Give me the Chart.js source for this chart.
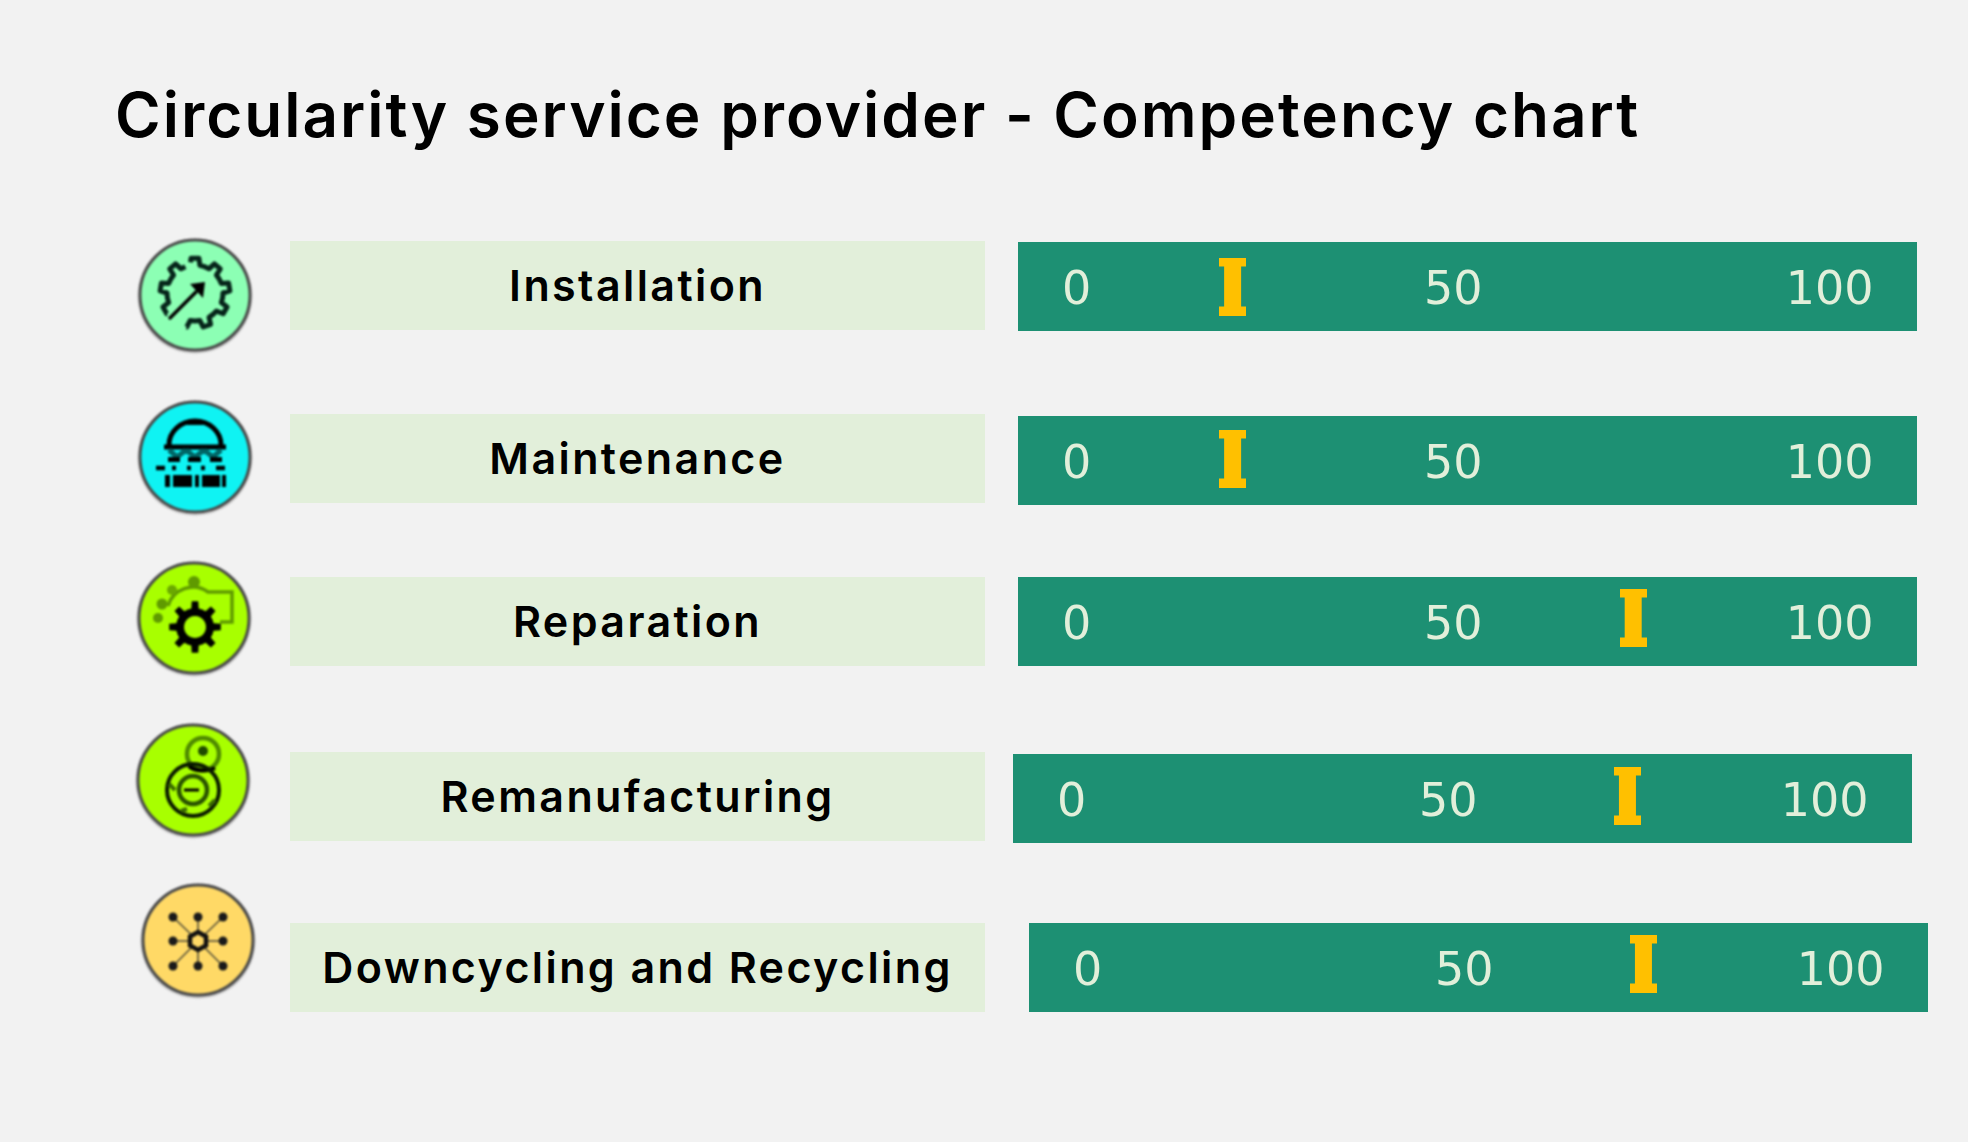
<!DOCTYPE html>
<html>
<head>
<meta charset="utf-8">
<title>Circularity service provider - Competency chart</title>
<script src="https://cdn.jsdelivr.net/npm/chart.js@4"></script>
<style>
html,body{margin:0;padding:0;background:#F2F2F2;width:1968px;height:1142px;overflow:hidden}
#title{position:absolute;left:115px;top:71px;font:600 62px/88px Inter,sans-serif;color:#000;white-space:nowrap;letter-spacing:2px}
.box{position:absolute;left:290px;width:695px;height:89px;background:#E2EFDA;display:flex;align-items:center;justify-content:center;font:600 43px/89px Inter,sans-serif;color:#000;white-space:nowrap;letter-spacing:2.4px}
canvas.row{position:absolute;display:block}
svg.icon{position:absolute;width:124px;height:124px;filter:blur(0.9px);overflow:visible}
</style>
</head>
<body>
<div id="title">Circularity service provider - Competency chart</div>
<script>
// ---- data ----
const categories = ["Installation", "Maintenance", "Reparation", "Remanufacturing", "Downcycling and Recycling"];
const competency = [20.7, 20.7, 73.9, 73.8, 73.8];
const tickValues = [0, 50, 100];

// ---- layout ----
const boxTops = [241, 414, 577, 752, 923];
const barLefts = [1018, 1018, 1018, 1013, 1029];
const barTops = [242, 416, 577, 754, 923];
const markerLift = [0, 2, 4, 3, 4];
const iconCentres = [[195,295],[195,457],[194,618],[193,780],[198,940]];
const iconFills = ["#8CFFB4", "#0FF3F3", "#A8FF00", "#A8FF00", "#FFD966"];
const BAR_W = 899, BAR_H = 89;
const AXIS_MIN = -7.8, AXIS_MAX = 111.6;
const GREEN = "#1D9073", PALE = "#E2EFDA", GOLD = "#FFC000";

// I-beam marker used as the point style
function markerImage() {
  const c = document.createElement('canvas');
  c.width = 27; c.height = 58;
  const g = c.getContext('2d');
  g.fillStyle = GOLD;
  g.fillRect(0, 0, 27, 9);
  g.fillRect(0, 49, 27, 9);
  g.fillRect(5, 0, 17, 58);
  return c;
}
const marker = markerImage();

const bandPlugin = {
  id: 'band',
  beforeDraw(chart) {
    const {ctx, chartArea: a} = chart;
    ctx.save();
    ctx.fillStyle = GREEN;
    ctx.fillRect(a.left, a.top, a.right - a.left, a.bottom - a.top);
    ctx.restore();
  }
};

categories.forEach((name, i) => {
  const box = document.createElement('div');
  box.className = 'box';
  box.style.top = boxTops[i] + 'px';
  box.textContent = name;
  document.body.appendChild(box);

  const cv = document.createElement('canvas');
  cv.className = 'row';
  cv.width = BAR_W; cv.height = BAR_H;
  cv.style.left = barLefts[i] + 'px';
  cv.style.top = barTops[i] + 'px';
  cv.style.width = BAR_W + 'px';
  cv.style.height = BAR_H + 'px';
  document.body.appendChild(cv);

  new Chart(cv, {
    type: 'scatter',
    plugins: [bandPlugin],
    data: {
      labels: [name],
      datasets: [{
        label: name,
        data: [{x: competency[i], y: markerLift[i]}],
        pointStyle: marker,
        pointRadius: 14,
        showLine: false
      }]
    },
    options: {
      responsive: false,
      animation: false,
      devicePixelRatio: 1,
      layout: {padding: 0, autoPadding: false},
      plugins: {legend: {display: false}, tooltip: {enabled: false}, title: {display: false}},
      scales: {
        y: {type: 'linear', min: -BAR_H / 2, max: BAR_H / 2, display: false},
        x: {
          type: 'linear',
          min: AXIS_MIN,
          max: AXIS_MAX,
          position: {y: 0},
          afterBuildTicks(s) { s.ticks = tickValues.map(v => ({value: v})); },
          afterFit(s) { s.paddingLeft = 0; s.paddingRight = 0; s.height = 0; },
          grid: {display: false, drawTicks: false},
          border: {display: false},
          ticks: {
            color: PALE,
            font: {family: 'DejaVu Sans', size: 46},
            padding: -22,
            autoSkip: false,
            maxRotation: 0,
            minRotation: 0
          }
        }
      }
    }
  });
});

// ---- decorative round icons ----
function gearPath(cx, cy, rOut, rIn, teeth) {
  let d = '';
  const step = Math.PI * 2 / teeth;
  for (let t = 0; t < teeth; t++) {
    const a = t * step;
    const pts = [[a - step*0.5, rIn],[a - step*0.25, rIn],[a - step*0.16, rOut],[a + step*0.16, rOut],[a + step*0.25, rIn]];
    pts.forEach(([an, r], k) => {
      d += (t === 0 && k === 0 ? 'M' : 'L') + (cx + r*Math.sin(an)).toFixed(1) + ' ' + (cy - r*Math.cos(an)).toFixed(1);
    });
  }
  return d + 'Z';
}
const iconArt = [
  `<path d="${gearPath(62,60,35,28,9)}" fill="none" stroke="#06251a" stroke-width="5" stroke-linejoin="round" stroke-dasharray="165 32" stroke-dashoffset="-8"/>
   <path d="M37 85 L63 59" stroke="#000" stroke-width="3.5" stroke-linecap="round"/><path d="M57 51 L72 49 L70 65Z" fill="#000"/>`,
  `<path d="M36 50 A26 24 0 0 1 88 50" fill="none" stroke="#000" stroke-width="5"/>
   <path d="M53 30 L62 24 L71 30Z" fill="#000"/>
   <path d="M31 52 H93" stroke="#000" stroke-width="5"/>
   <path d="M36 55 L44 62 L53 55 M53 55 L62 62 L71 55 M71 55 L80 62 L88 55" fill="none" stroke="#066" stroke-width="5"/>
   <rect x="35" y="62" width="12" height="5" fill="#000"/><rect x="55" y="62" width="13" height="5" fill="#000"/><rect x="77" y="62" width="12" height="5" fill="#000"/>
   <path d="M23 73 H101" stroke="#000" stroke-width="4.5" stroke-dasharray="9 7 4 11 4 10 4 11 9"/>
   <rect x="40" y="80" width="19" height="12" fill="#000"/><rect x="69" y="80" width="18" height="12" fill="#000"/>
   <rect x="32" y="80" width="5" height="12" fill="#000"/><rect x="62" y="80" width="4" height="12" fill="#000"/><rect x="89" y="80" width="4" height="12" fill="#000"/>`,
  `<path d="M36 50 A26 26 0 0 1 76 36 H100 V66 H88" fill="none" stroke="#5f9a00" stroke-width="3.5"/>
   <circle cx="62" cy="26" r="6" fill="#5f9a00"/><circle cx="40" cy="34" r="5" fill="#6aa800"/><circle cx="30" cy="48" r="5.5" fill="#5f9a00"/><circle cx="26" cy="62" r="5" fill="#5f9a00"/>
   <path fill-rule="evenodd" d="${gearPath(63,71,26,19,8)} M63 60 a11 11 0 1 0 0.01 0Z" fill="#000"/>`,
  `<circle cx="72" cy="36" r="16" fill="none" stroke="#4f8a00" stroke-width="4.5"/><circle cx="72" cy="33" r="5" fill="#1f4a00"/>
   <path d="M58 48 A16 8 0 0 0 84 50" fill="none" stroke="#000" stroke-width="4"/>
   <circle cx="62" cy="72" r="26" fill="none" stroke="#0a1a00" stroke-width="4"/>
   <circle cx="62" cy="72" r="14" fill="none" stroke="#2a5200" stroke-width="4.5"/>
   <path d="M53 72 H68" stroke="#000" stroke-width="3"/>
   <path d="M38 66 L44 72 M78 88 L84 82 M50 93 L56 91" stroke="#3a6a00" stroke-width="4"/>`,
  (() => {
    const c = [[37,39],[62,39],[87,39],[37,63],[87,63],[37,88],[62,88],[87,88]];
    let s = '';
    c.forEach(([x,y]) => {
      s += `<line x1="62" y1="63" x2="${x}" y2="${y}" stroke="#55503a" stroke-width="1.6"/><circle cx="${x}" cy="${y}" r="4.5" fill="#1a1a1a"/>`;
    });
    s += `<path d="M62 54 L70 58.5 V67.5 L62 72 L54 67.5 V58.5Z" fill="#FFD966" stroke="#111" stroke-width="4.5"/>`;
    return s;
  })()
];
categories.forEach((name, i) => {
  const [cx, cy] = iconCentres[i];
  const holder = document.createElement('div');
  holder.innerHTML = `<svg class="icon" viewBox="0 0 124 124" style="left:${cx-62}px;top:${cy-62}px">
    <circle cx="62" cy="63" r="57.5" fill="#a8a8a8" opacity="0.6"/>
    <circle cx="62" cy="62" r="55" fill="${iconFills[i]}" stroke="#4a4a4a" stroke-width="3"/>
    ${iconArt[i]}</svg>`;
  document.body.appendChild(holder.firstElementChild);
});
</script>
</body>
</html>
